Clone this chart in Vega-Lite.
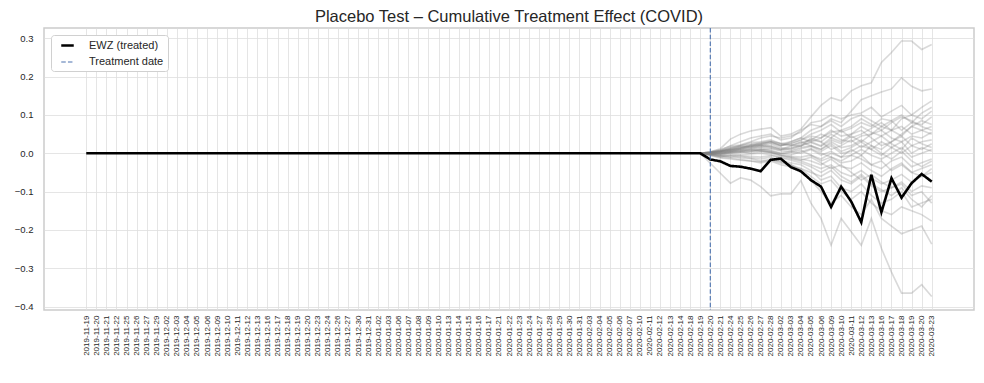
{
"$schema":"https://vega.github.io/schema/vega-lite/v6.json",
"width":930,"height":282,
"autosize":{"type":"none"},
"padding":{"left":44,"top":28,"right":10,"bottom":73},
"background":"white",
"params":[{"name":"dl","value":["2019-11-19","2019-11-20","2019-11-21","2019-11-22","2019-11-25","2019-11-26","2019-11-27","2019-11-29","2019-12-02","2019-12-03","2019-12-04","2019-12-05","2019-12-06","2019-12-09","2019-12-10","2019-12-11","2019-12-12","2019-12-13","2019-12-16","2019-12-17","2019-12-18","2019-12-19","2019-12-20","2019-12-23","2019-12-24","2019-12-26","2019-12-27","2019-12-30","2019-12-31","2020-01-02","2020-01-03","2020-01-06","2020-01-07","2020-01-08","2020-01-09","2020-01-10","2020-01-13","2020-01-14","2020-01-15","2020-01-16","2020-01-17","2020-01-21","2020-01-22","2020-01-23","2020-01-24","2020-01-27","2020-01-28","2020-01-29","2020-01-30","2020-01-31","2020-02-03","2020-02-04","2020-02-05","2020-02-06","2020-02-07","2020-02-10","2020-02-11","2020-02-12","2020-02-13","2020-02-14","2020-02-18","2020-02-19","2020-02-20","2020-02-21","2020-02-24","2020-02-25","2020-02-26","2020-02-27","2020-02-28","2020-03-02","2020-03-03","2020-03-04","2020-03-05","2020-03-06","2020-03-09","2020-03-10","2020-03-11","2020-03-12","2020-03-13","2020-03-16","2020-03-17","2020-03-18","2020-03-19","2020-03-20","2020-03-23"]}],
"title":{"text":"Placebo Test – Cumulative Treatment Effect (COVID)","fontSize":16.5,"font":"Liberation Sans","fontWeight":"normal","color":"#262626","anchor":"middle","offset":2},
"config":{
"view":{"stroke":"#cccccc","strokeWidth":1.5},
"axis":{"domain":false,"ticks":false,"gridColor":"#dedede","gridWidth":0.8,"labelFont":"Liberation Sans","labelColor":"#262626","title":null},
"legend":{"orient":"top-left","offset":7,"padding":4,"fillColor":"white","strokeColor":"#d0d0d0","cornerRadius":3,"labelFont":"Liberation Sans","labelFontSize":11,"labelColor":"#262626","symbolType":"M-1.25,0L1.25,0","symbolSize":100,"symbolOffset":6,"rowPadding":5,"labelOffset":15}
},
"datasets":{
"treated":[
{"i":0,"date":"2019-11-19","v":0,"series":"EWZ (treated)"},{"i":1,"date":"2019-11-20","v":0,"series":"EWZ (treated)"},{"i":2,"date":"2019-11-21","v":0,"series":"EWZ (treated)"},{"i":3,"date":"2019-11-22","v":0,"series":"EWZ (treated)"},{"i":4,"date":"2019-11-25","v":0,"series":"EWZ (treated)"},{"i":5,"date":"2019-11-26","v":0,"series":"EWZ (treated)"},{"i":6,"date":"2019-11-27","v":0,"series":"EWZ (treated)"},{"i":7,"date":"2019-11-29","v":0,"series":"EWZ (treated)"},
{"i":8,"date":"2019-12-02","v":0,"series":"EWZ (treated)"},{"i":9,"date":"2019-12-03","v":0,"series":"EWZ (treated)"},{"i":10,"date":"2019-12-04","v":0,"series":"EWZ (treated)"},{"i":11,"date":"2019-12-05","v":0,"series":"EWZ (treated)"},{"i":12,"date":"2019-12-06","v":0,"series":"EWZ (treated)"},{"i":13,"date":"2019-12-09","v":0,"series":"EWZ (treated)"},{"i":14,"date":"2019-12-10","v":0,"series":"EWZ (treated)"},{"i":15,"date":"2019-12-11","v":0,"series":"EWZ (treated)"},{"i":16,"date":"2019-12-12","v":0,"series":"EWZ (treated)"},{"i":17,"date":"2019-12-13","v":0,"series":"EWZ (treated)"},{"i":18,"date":"2019-12-16","v":0,"series":"EWZ (treated)"},{"i":19,"date":"2019-12-17","v":0,"series":"EWZ (treated)"},{"i":20,"date":"2019-12-18","v":0,"series":"EWZ (treated)"},{"i":21,"date":"2019-12-19","v":0,"series":"EWZ (treated)"},{"i":22,"date":"2019-12-20","v":0,"series":"EWZ (treated)"},{"i":23,"date":"2019-12-23","v":0,"series":"EWZ (treated)"},{"i":24,"date":"2019-12-24","v":0,"series":"EWZ (treated)"},{"i":25,"date":"2019-12-26","v":0,"series":"EWZ (treated)"},{"i":26,"date":"2019-12-27","v":0,"series":"EWZ (treated)"},{"i":27,"date":"2019-12-30","v":0,"series":"EWZ (treated)"},{"i":28,"date":"2019-12-31","v":0,"series":"EWZ (treated)"},
{"i":29,"date":"2020-01-02","v":0,"series":"EWZ (treated)"},{"i":30,"date":"2020-01-03","v":0,"series":"EWZ (treated)"},{"i":31,"date":"2020-01-06","v":0,"series":"EWZ (treated)"},{"i":32,"date":"2020-01-07","v":0,"series":"EWZ (treated)"},{"i":33,"date":"2020-01-08","v":0,"series":"EWZ (treated)"},{"i":34,"date":"2020-01-09","v":0,"series":"EWZ (treated)"},{"i":35,"date":"2020-01-10","v":0,"series":"EWZ (treated)"},{"i":36,"date":"2020-01-13","v":0,"series":"EWZ (treated)"},{"i":37,"date":"2020-01-14","v":0,"series":"EWZ (treated)"},{"i":38,"date":"2020-01-15","v":0,"series":"EWZ (treated)"},{"i":39,"date":"2020-01-16","v":0,"series":"EWZ (treated)"},{"i":40,"date":"2020-01-17","v":0,"series":"EWZ (treated)"},{"i":41,"date":"2020-01-21","v":0,"series":"EWZ (treated)"},{"i":42,"date":"2020-01-22","v":0,"series":"EWZ (treated)"},{"i":43,"date":"2020-01-23","v":0,"series":"EWZ (treated)"},{"i":44,"date":"2020-01-24","v":0,"series":"EWZ (treated)"},{"i":45,"date":"2020-01-27","v":0,"series":"EWZ (treated)"},{"i":46,"date":"2020-01-28","v":0,"series":"EWZ (treated)"},{"i":47,"date":"2020-01-29","v":0,"series":"EWZ (treated)"},{"i":48,"date":"2020-01-30","v":0,"series":"EWZ (treated)"},{"i":49,"date":"2020-01-31","v":0,"series":"EWZ (treated)"},
{"i":50,"date":"2020-02-03","v":0,"series":"EWZ (treated)"},{"i":51,"date":"2020-02-04","v":0,"series":"EWZ (treated)"},{"i":52,"date":"2020-02-05","v":0,"series":"EWZ (treated)"},{"i":53,"date":"2020-02-06","v":0,"series":"EWZ (treated)"},{"i":54,"date":"2020-02-07","v":0,"series":"EWZ (treated)"},{"i":55,"date":"2020-02-10","v":0,"series":"EWZ (treated)"},{"i":56,"date":"2020-02-11","v":0,"series":"EWZ (treated)"},{"i":57,"date":"2020-02-12","v":0,"series":"EWZ (treated)"},{"i":58,"date":"2020-02-13","v":0,"series":"EWZ (treated)"},{"i":59,"date":"2020-02-14","v":0,"series":"EWZ (treated)"},{"i":60,"date":"2020-02-18","v":0,"series":"EWZ (treated)"},{"i":61,"date":"2020-02-19","v":0,"series":"EWZ (treated)"},
{"i":62,"date":"2020-02-20","v":-0.016,"series":"EWZ (treated)"},{"i":63,"date":"2020-02-21","v":-0.021,"series":"EWZ (treated)"},{"i":64,"date":"2020-02-24","v":-0.033,"series":"EWZ (treated)"},{"i":65,"date":"2020-02-25","v":-0.035,"series":"EWZ (treated)"},{"i":66,"date":"2020-02-26","v":-0.040,"series":"EWZ (treated)"},{"i":67,"date":"2020-02-27","v":-0.047,"series":"EWZ (treated)"},{"i":68,"date":"2020-02-28","v":-0.017,"series":"EWZ (treated)"},
{"i":69,"date":"2020-03-02","v":-0.014,"series":"EWZ (treated)"},{"i":70,"date":"2020-03-03","v":-0.036,"series":"EWZ (treated)"},{"i":71,"date":"2020-03-04","v":-0.047,"series":"EWZ (treated)"},{"i":72,"date":"2020-03-05","v":-0.070,"series":"EWZ (treated)"},{"i":73,"date":"2020-03-06","v":-0.087,"series":"EWZ (treated)"},{"i":74,"date":"2020-03-09","v":-0.140,"series":"EWZ (treated)"},{"i":75,"date":"2020-03-10","v":-0.087,"series":"EWZ (treated)"},{"i":76,"date":"2020-03-11","v":-0.126,"series":"EWZ (treated)"},{"i":77,"date":"2020-03-12","v":-0.180,"series":"EWZ (treated)"},{"i":78,"date":"2020-03-13","v":-0.056,"series":"EWZ (treated)"},{"i":79,"date":"2020-03-16","v":-0.154,"series":"EWZ (treated)"},{"i":80,"date":"2020-03-17","v":-0.065,"series":"EWZ (treated)"},{"i":81,"date":"2020-03-18","v":-0.116,"series":"EWZ (treated)"},{"i":82,"date":"2020-03-19","v":-0.078,"series":"EWZ (treated)"},{"i":83,"date":"2020-03-20","v":-0.054,"series":"EWZ (treated)"},{"i":84,"date":"2020-03-23","v":-0.074,"series":"EWZ (treated)"}
],
"event":[{"i":62,"date":"2020-02-20","series":"Treatment date"}],
"placebo":[
{"s":"p01","i":61,"v":0},{"s":"p01","i":62,"v":0.004},{"s":"p01","i":63,"v":0.012},{"s":"p01","i":64,"v":0.037},{"s":"p01","i":65,"v":0.05},{"s":"p01","i":66,"v":0.058},{"s":"p01","i":67,"v":0.063},{"s":"p01","i":68,"v":0.067},{"s":"p01","i":69,"v":0.045},{"s":"p01","i":70,"v":0.05},{"s":"p01","i":71,"v":0.063},{"s":"p01","i":72,"v":0.095},{"s":"p01","i":73,"v":0.125},{"s":"p01","i":74,"v":0.145},{"s":"p01","i":75,"v":0.137},{"s":"p01","i":76,"v":0.163},{"s":"p01","i":77,"v":0.176},{"s":"p01","i":78,"v":0.184},{"s":"p01","i":79,"v":0.237},{"s":"p01","i":80,"v":0.263},{"s":"p01","i":81,"v":0.293},{"s":"p01","i":82,"v":0.293},{"s":"p01","i":83,"v":0.271},{"s":"p01","i":84,"v":0.284},
{"s":"p02","i":61,"v":0},{"s":"p02","i":62,"v":0.003},{"s":"p02","i":63,"v":0.008},{"s":"p02","i":64,"v":0.02},{"s":"p02","i":65,"v":0.03},{"s":"p02","i":66,"v":0.04},{"s":"p02","i":67,"v":0.045},{"s":"p02","i":68,"v":0.05},{"s":"p02","i":69,"v":0.035},{"s":"p02","i":70,"v":0.04},{"s":"p02","i":71,"v":0.06},{"s":"p02","i":72,"v":0.075},{"s":"p02","i":73,"v":0.07},{"s":"p02","i":74,"v":0.09},{"s":"p02","i":75,"v":0.08},{"s":"p02","i":76,"v":0.11},{"s":"p02","i":77,"v":0.14},{"s":"p02","i":78,"v":0.15},{"s":"p02","i":79,"v":0.16},{"s":"p02","i":80,"v":0.168},{"s":"p02","i":81,"v":0.197},{"s":"p02","i":82,"v":0.175},{"s":"p02","i":83,"v":0.163},{"s":"p02","i":84,"v":0.168},
{"s":"p03","i":61,"v":0},{"s":"p03","i":62,"v":0.002},{"s":"p03","i":63,"v":0.006},{"s":"p03","i":64,"v":0.015},{"s":"p03","i":65,"v":0.02},{"s":"p03","i":66,"v":0.028},{"s":"p03","i":67,"v":0.03},{"s":"p03","i":68,"v":0.035},{"s":"p03","i":69,"v":0.025},{"s":"p03","i":70,"v":0.03},{"s":"p03","i":71,"v":0.04},{"s":"p03","i":72,"v":0.06},{"s":"p03","i":73,"v":0.07},{"s":"p03","i":74,"v":0.085},{"s":"p03","i":75,"v":0.07},{"s":"p03","i":76,"v":0.09},{"s":"p03","i":77,"v":0.1},{"s":"p03","i":78,"v":0.085},{"s":"p03","i":79,"v":0.07},{"s":"p03","i":80,"v":0.06},{"s":"p03","i":81,"v":0.09},{"s":"p03","i":82,"v":0.1},{"s":"p03","i":83,"v":0.12},{"s":"p03","i":84,"v":0.137},
{"s":"p04","i":61,"v":0},{"s":"p04","i":62,"v":0.003},{"s":"p04","i":63,"v":0.01},{"s":"p04","i":64,"v":0.018},{"s":"p04","i":65,"v":0.022},{"s":"p04","i":66,"v":0.03},{"s":"p04","i":67,"v":0.04},{"s":"p04","i":68,"v":0.045},{"s":"p04","i":69,"v":0.04},{"s":"p04","i":70,"v":0.045},{"s":"p04","i":71,"v":0.055},{"s":"p04","i":72,"v":0.08},{"s":"p04","i":73,"v":0.085},{"s":"p04","i":74,"v":0.1},{"s":"p04","i":75,"v":0.09},{"s":"p04","i":76,"v":0.1},{"s":"p04","i":77,"v":0.105},{"s":"p04","i":78,"v":0.12},{"s":"p04","i":79,"v":0.095},{"s":"p04","i":80,"v":0.11},{"s":"p04","i":81,"v":0.125},{"s":"p04","i":82,"v":0.1},{"s":"p04","i":83,"v":0.09},{"s":"p04","i":84,"v":0.11},
{"s":"p05","i":61,"v":0},{"s":"p05","i":62,"v":0.001},{"s":"p05","i":63,"v":0.005},{"s":"p05","i":64,"v":0.01},{"s":"p05","i":65,"v":0.015},{"s":"p05","i":66,"v":0.02},{"s":"p05","i":67,"v":0.025},{"s":"p05","i":68,"v":0.03},{"s":"p05","i":69,"v":0.02},{"s":"p05","i":70,"v":0.025},{"s":"p05","i":71,"v":0.035},{"s":"p05","i":72,"v":0.05},{"s":"p05","i":73,"v":0.06},{"s":"p05","i":74,"v":0.075},{"s":"p05","i":75,"v":0.055},{"s":"p05","i":76,"v":0.065},{"s":"p05","i":77,"v":0.08},{"s":"p05","i":78,"v":0.07},{"s":"p05","i":79,"v":0.09},{"s":"p05","i":80,"v":0.085},{"s":"p05","i":81,"v":0.06},{"s":"p05","i":82,"v":0.08},{"s":"p05","i":83,"v":0.075},{"s":"p05","i":84,"v":0.095},
{"s":"p06","i":61,"v":0},{"s":"p06","i":62,"v":0.002},{"s":"p06","i":63,"v":0.004},{"s":"p06","i":64,"v":0.012},{"s":"p06","i":65,"v":0.018},{"s":"p06","i":66,"v":0.016},{"s":"p06","i":67,"v":0.02},{"s":"p06","i":68,"v":0.025},{"s":"p06","i":69,"v":0.015},{"s":"p06","i":70,"v":0.012},{"s":"p06","i":71,"v":0.02},{"s":"p06","i":72,"v":0.03},{"s":"p06","i":73,"v":0.04},{"s":"p06","i":74,"v":0.06},{"s":"p06","i":75,"v":0.045},{"s":"p06","i":76,"v":0.05},{"s":"p06","i":77,"v":0.07},{"s":"p06","i":78,"v":0.055},{"s":"p06","i":79,"v":0.045},{"s":"p06","i":80,"v":0.06},{"s":"p06","i":81,"v":0.07},{"s":"p06","i":82,"v":0.05},{"s":"p06","i":83,"v":0.06},{"s":"p06","i":84,"v":0.07},
{"s":"p07","i":61,"v":0},{"s":"p07","i":62,"v":-0.002},{"s":"p07","i":63,"v":0.003},{"s":"p07","i":64,"v":0.008},{"s":"p07","i":65,"v":0.012},{"s":"p07","i":66,"v":0.018},{"s":"p07","i":67,"v":0.022},{"s":"p07","i":68,"v":0.018},{"s":"p07","i":69,"v":0.01},{"s":"p07","i":70,"v":0.015},{"s":"p07","i":71,"v":0.025},{"s":"p07","i":72,"v":0.035},{"s":"p07","i":73,"v":0.03},{"s":"p07","i":74,"v":0.05},{"s":"p07","i":75,"v":0.035},{"s":"p07","i":76,"v":0.03},{"s":"p07","i":77,"v":0.045},{"s":"p07","i":78,"v":0.05},{"s":"p07","i":79,"v":0.06},{"s":"p07","i":80,"v":0.04},{"s":"p07","i":81,"v":0.03},{"s":"p07","i":82,"v":0.045},{"s":"p07","i":83,"v":0.04},{"s":"p07","i":84,"v":0.055},
{"s":"p08","i":61,"v":0},{"s":"p08","i":62,"v":0.001},{"s":"p08","i":63,"v":0},{"s":"p08","i":64,"v":0.006},{"s":"p08","i":65,"v":0.01},{"s":"p08","i":66,"v":0.012},{"s":"p08","i":67,"v":0.016},{"s":"p08","i":68,"v":0.02},{"s":"p08","i":69,"v":0.012},{"s":"p08","i":70,"v":0.008},{"s":"p08","i":71,"v":0.015},{"s":"p08","i":72,"v":0.02},{"s":"p08","i":73,"v":0.01},{"s":"p08","i":74,"v":0.03},{"s":"p08","i":75,"v":0.015},{"s":"p08","i":76,"v":0.02},{"s":"p08","i":77,"v":0.035},{"s":"p08","i":78,"v":0.02},{"s":"p08","i":79,"v":0.01},{"s":"p08","i":80,"v":0.03},{"s":"p08","i":81,"v":0.045},{"s":"p08","i":82,"v":0.02},{"s":"p08","i":83,"v":0.03},{"s":"p08","i":84,"v":0.035},
{"s":"p09","i":61,"v":0},{"s":"p09","i":62,"v":-0.003},{"s":"p09","i":63,"v":-0.001},{"s":"p09","i":64,"v":0.004},{"s":"p09","i":65,"v":0.006},{"s":"p09","i":66,"v":0.01},{"s":"p09","i":67,"v":0.012},{"s":"p09","i":68,"v":0.008},{"s":"p09","i":69,"v":0},{"s":"p09","i":70,"v":0.005},{"s":"p09","i":71,"v":0.012},{"s":"p09","i":72,"v":0.018},{"s":"p09","i":73,"v":0.005},{"s":"p09","i":74,"v":0.02},{"s":"p09","i":75,"v":0},{"s":"p09","i":76,"v":0.005},{"s":"p09","i":77,"v":0.02},{"s":"p09","i":78,"v":0.01},{"s":"p09","i":79,"v":0.03},{"s":"p09","i":80,"v":0.015},{"s":"p09","i":81,"v":0},{"s":"p09","i":82,"v":0.02},{"s":"p09","i":83,"v":0.01},{"s":"p09","i":84,"v":0.025},
{"s":"p10","i":61,"v":0},{"s":"p10","i":62,"v":0.002},{"s":"p10","i":63,"v":0.006},{"s":"p10","i":64,"v":0.01},{"s":"p10","i":65,"v":0.014},{"s":"p10","i":66,"v":0.02},{"s":"p10","i":67,"v":0.024},{"s":"p10","i":68,"v":0.03},{"s":"p10","i":69,"v":0.02},{"s":"p10","i":70,"v":0.03},{"s":"p10","i":71,"v":0.04},{"s":"p10","i":72,"v":0.03},{"s":"p10","i":73,"v":0.02},{"s":"p10","i":74,"v":0.04},{"s":"p10","i":75,"v":0.03},{"s":"p10","i":76,"v":0.05},{"s":"p10","i":77,"v":0.06},{"s":"p10","i":78,"v":0.04},{"s":"p10","i":79,"v":0.02},{"s":"p10","i":80,"v":0.03},{"s":"p10","i":81,"v":0.05},{"s":"p10","i":82,"v":0.07},{"s":"p10","i":83,"v":0.06},{"s":"p10","i":84,"v":0.05},
{"s":"p11","i":61,"v":0},{"s":"p11","i":62,"v":-0.001},{"s":"p11","i":63,"v":0.001},{"s":"p11","i":64,"v":0.003},{"s":"p11","i":65,"v":0.005},{"s":"p11","i":66,"v":0.008},{"s":"p11","i":67,"v":0.01},{"s":"p11","i":68,"v":0.012},{"s":"p11","i":69,"v":0.006},{"s":"p11","i":70,"v":0.004},{"s":"p11","i":71,"v":0},{"s":"p11","i":72,"v":0.01},{"s":"p11","i":73,"v":-0.005},{"s":"p11","i":74,"v":0.005},{"s":"p11","i":75,"v":-0.01},{"s":"p11","i":76,"v":-0.005},{"s":"p11","i":77,"v":0.01},{"s":"p11","i":78,"v":-0.005},{"s":"p11","i":79,"v":-0.015},{"s":"p11","i":80,"v":0},{"s":"p11","i":81,"v":0.015},{"s":"p11","i":82,"v":-0.01},{"s":"p11","i":83,"v":0},{"s":"p11","i":84,"v":0.01},
{"s":"p12","i":61,"v":0},{"s":"p12","i":62,"v":0.003},{"s":"p12","i":63,"v":0.007},{"s":"p12","i":64,"v":0.014},{"s":"p12","i":65,"v":0.02},{"s":"p12","i":66,"v":0.024},{"s":"p12","i":67,"v":0.028},{"s":"p12","i":68,"v":0.032},{"s":"p12","i":69,"v":0.026},{"s":"p12","i":70,"v":0.022},{"s":"p12","i":71,"v":0.018},{"s":"p12","i":72,"v":0.04},{"s":"p12","i":73,"v":0.03},{"s":"p12","i":74,"v":0.01},{"s":"p12","i":75,"v":0.02},{"s":"p12","i":76,"v":0.035},{"s":"p12","i":77,"v":0.015},{"s":"p12","i":78,"v":0.03},{"s":"p12","i":79,"v":0.045},{"s":"p12","i":80,"v":0.025},{"s":"p12","i":81,"v":0.01},{"s":"p12","i":82,"v":0.04},{"s":"p12","i":83,"v":0.025},{"s":"p12","i":84,"v":0.015},
{"s":"p13","i":61,"v":0},{"s":"p13","i":62,"v":-0.002},{"s":"p13","i":63,"v":-0.004},{"s":"p13","i":64,"v":0},{"s":"p13","i":65,"v":0.003},{"s":"p13","i":66,"v":0.005},{"s":"p13","i":67,"v":0.008},{"s":"p13","i":68,"v":0.004},{"s":"p13","i":69,"v":-0.004},{"s":"p13","i":70,"v":-0.008},{"s":"p13","i":71,"v":-0.01},{"s":"p13","i":72,"v":-0.005},{"s":"p13","i":73,"v":-0.02},{"s":"p13","i":74,"v":-0.01},{"s":"p13","i":75,"v":-0.025},{"s":"p13","i":76,"v":-0.02},{"s":"p13","i":77,"v":-0.005},{"s":"p13","i":78,"v":-0.03},{"s":"p13","i":79,"v":-0.04},{"s":"p13","i":80,"v":-0.02},{"s":"p13","i":81,"v":-0.01},{"s":"p13","i":82,"v":-0.035},{"s":"p13","i":83,"v":-0.025},{"s":"p13","i":84,"v":-0.015},
{"s":"p14","i":61,"v":0},{"s":"p14","i":62,"v":0},{"s":"p14","i":63,"v":0.002},{"s":"p14","i":64,"v":0.005},{"s":"p14","i":65,"v":0.008},{"s":"p14","i":66,"v":0.01},{"s":"p14","i":67,"v":0.006},{"s":"p14","i":68,"v":0.002},{"s":"p14","i":69,"v":-0.006},{"s":"p14","i":70,"v":-0.01},{"s":"p14","i":71,"v":-0.015},{"s":"p14","i":72,"v":-0.02},{"s":"p14","i":73,"v":-0.03},{"s":"p14","i":74,"v":-0.015},{"s":"p14","i":75,"v":-0.035},{"s":"p14","i":76,"v":-0.04},{"s":"p14","i":77,"v":-0.025},{"s":"p14","i":78,"v":-0.045},{"s":"p14","i":79,"v":-0.06},{"s":"p14","i":80,"v":-0.04},{"s":"p14","i":81,"v":-0.025},{"s":"p14","i":82,"v":-0.05},{"s":"p14","i":83,"v":-0.04},{"s":"p14","i":84,"v":-0.03},
{"s":"p15","i":61,"v":0},{"s":"p15","i":62,"v":-0.004},{"s":"p15","i":63,"v":-0.008},{"s":"p15","i":64,"v":-0.006},{"s":"p15","i":65,"v":-0.004},{"s":"p15","i":66,"v":-0.002},{"s":"p15","i":67,"v":0},{"s":"p15","i":68,"v":-0.004},{"s":"p15","i":69,"v":-0.01},{"s":"p15","i":70,"v":-0.015},{"s":"p15","i":71,"v":-0.02},{"s":"p15","i":72,"v":-0.03},{"s":"p15","i":73,"v":-0.04},{"s":"p15","i":74,"v":-0.03},{"s":"p15","i":75,"v":-0.05},{"s":"p15","i":76,"v":-0.06},{"s":"p15","i":77,"v":-0.045},{"s":"p15","i":78,"v":-0.065},{"s":"p15","i":79,"v":-0.08},{"s":"p15","i":80,"v":-0.07},{"s":"p15","i":81,"v":-0.055},{"s":"p15","i":82,"v":-0.075},{"s":"p15","i":83,"v":-0.06},{"s":"p15","i":84,"v":-0.05},
{"s":"p16","i":61,"v":0},{"s":"p16","i":62,"v":-0.006},{"s":"p16","i":63,"v":-0.012},{"s":"p16","i":64,"v":-0.015},{"s":"p16","i":65,"v":-0.018},{"s":"p16","i":66,"v":-0.02},{"s":"p16","i":67,"v":-0.025},{"s":"p16","i":68,"v":-0.02},{"s":"p16","i":69,"v":-0.03},{"s":"p16","i":70,"v":-0.035},{"s":"p16","i":71,"v":-0.04},{"s":"p16","i":72,"v":-0.05},{"s":"p16","i":73,"v":-0.06},{"s":"p16","i":74,"v":-0.045},{"s":"p16","i":75,"v":-0.07},{"s":"p16","i":76,"v":-0.08},{"s":"p16","i":77,"v":-0.06},{"s":"p16","i":78,"v":-0.085},{"s":"p16","i":79,"v":-0.1},{"s":"p16","i":80,"v":-0.09},{"s":"p16","i":81,"v":-0.075},{"s":"p16","i":82,"v":-0.1},{"s":"p16","i":83,"v":-0.085},{"s":"p16","i":84,"v":-0.09},
{"s":"p17","i":61,"v":0},{"s":"p17","i":62,"v":-0.003},{"s":"p17","i":63,"v":-0.006},{"s":"p17","i":64,"v":-0.01},{"s":"p17","i":65,"v":-0.008},{"s":"p17","i":66,"v":-0.012},{"s":"p17","i":67,"v":-0.015},{"s":"p17","i":68,"v":-0.01},{"s":"p17","i":69,"v":-0.02},{"s":"p17","i":70,"v":-0.025},{"s":"p17","i":71,"v":-0.03},{"s":"p17","i":72,"v":-0.045},{"s":"p17","i":73,"v":-0.07},{"s":"p17","i":74,"v":-0.06},{"s":"p17","i":75,"v":-0.09},{"s":"p17","i":76,"v":-0.1},{"s":"p17","i":77,"v":-0.08},{"s":"p17","i":78,"v":-0.11},{"s":"p17","i":79,"v":-0.13},{"s":"p17","i":80,"v":-0.12},{"s":"p17","i":81,"v":-0.1},{"s":"p17","i":82,"v":-0.14},{"s":"p17","i":83,"v":-0.13},{"s":"p17","i":84,"v":-0.12},
{"s":"p18","i":61,"v":0},{"s":"p18","i":62,"v":-0.005},{"s":"p18","i":63,"v":-0.01},{"s":"p18","i":64,"v":-0.012},{"s":"p18","i":65,"v":-0.016},{"s":"p18","i":66,"v":-0.02},{"s":"p18","i":67,"v":-0.022},{"s":"p18","i":68,"v":-0.018},{"s":"p18","i":69,"v":-0.025},{"s":"p18","i":70,"v":-0.03},{"s":"p18","i":71,"v":-0.04},{"s":"p18","i":72,"v":-0.06},{"s":"p18","i":73,"v":-0.08},{"s":"p18","i":74,"v":-0.07},{"s":"p18","i":75,"v":-0.1},{"s":"p18","i":76,"v":-0.12},{"s":"p18","i":77,"v":-0.1},{"s":"p18","i":78,"v":-0.13},{"s":"p18","i":79,"v":-0.15},{"s":"p18","i":80,"v":-0.16},{"s":"p18","i":81,"v":-0.14},{"s":"p18","i":82,"v":-0.15},{"s":"p18","i":83,"v":-0.16},{"s":"p18","i":84,"v":-0.177},
{"s":"p19","i":61,"v":0},{"s":"p19","i":62,"v":-0.004},{"s":"p19","i":63,"v":-0.008},{"s":"p19","i":64,"v":-0.006},{"s":"p19","i":65,"v":-0.012},{"s":"p19","i":66,"v":-0.014},{"s":"p19","i":67,"v":-0.02},{"s":"p19","i":68,"v":-0.016},{"s":"p19","i":69,"v":-0.022},{"s":"p19","i":70,"v":-0.03},{"s":"p19","i":71,"v":-0.045},{"s":"p19","i":72,"v":-0.07},{"s":"p19","i":73,"v":-0.1},{"s":"p19","i":74,"v":-0.13},{"s":"p19","i":75,"v":-0.11},{"s":"p19","i":76,"v":-0.14},{"s":"p19","i":77,"v":-0.16},{"s":"p19","i":78,"v":-0.12},{"s":"p19","i":79,"v":-0.17},{"s":"p19","i":80,"v":-0.19},{"s":"p19","i":81,"v":-0.21},{"s":"p19","i":82,"v":-0.2},{"s":"p19","i":83,"v":-0.19},{"s":"p19","i":84,"v":-0.237},
{"s":"p20","i":61,"v":0},{"s":"p20","i":62,"v":-0.026},{"s":"p20","i":63,"v":-0.052},{"s":"p20","i":64,"v":-0.078},{"s":"p20","i":65,"v":-0.064},{"s":"p20","i":66,"v":-0.07},{"s":"p20","i":67,"v":-0.087},{"s":"p20","i":68,"v":-0.111},{"s":"p20","i":69,"v":-0.106},{"s":"p20","i":70,"v":-0.106},{"s":"p20","i":71,"v":-0.071},{"s":"p20","i":72,"v":-0.13},{"s":"p20","i":73,"v":-0.17},{"s":"p20","i":74,"v":-0.24},{"s":"p20","i":75,"v":-0.17},{"s":"p20","i":76,"v":-0.205},{"s":"p20","i":77,"v":-0.24},{"s":"p20","i":78,"v":-0.17},{"s":"p20","i":79,"v":-0.248},{"s":"p20","i":80,"v":-0.31},{"s":"p20","i":81,"v":-0.365},{"s":"p20","i":82,"v":-0.365},{"s":"p20","i":83,"v":-0.343},{"s":"p20","i":84,"v":-0.374},
{"s":"p21","i":61,"v":0},{"s":"p21","i":62,"v":0.001},{"s":"p21","i":63,"v":0.004},{"s":"p21","i":64,"v":0.008},{"s":"p21","i":65,"v":0.012},{"s":"p21","i":66,"v":0.015},{"s":"p21","i":67,"v":0.02},{"s":"p21","i":68,"v":0.016},{"s":"p21","i":69,"v":0.01},{"s":"p21","i":70,"v":0.02},{"s":"p21","i":71,"v":0.03},{"s":"p21","i":72,"v":0.02},{"s":"p21","i":73,"v":0.01},{"s":"p21","i":74,"v":0.025},{"s":"p21","i":75,"v":0.005},{"s":"p21","i":76,"v":0.015},{"s":"p21","i":77,"v":0.03},{"s":"p21","i":78,"v":0.01},{"s":"p21","i":79,"v":-0.005},{"s":"p21","i":80,"v":0.015},{"s":"p21","i":81,"v":0.03},{"s":"p21","i":82,"v":0},{"s":"p21","i":83,"v":0.015},{"s":"p21","i":84,"v":0.005},
{"s":"p22","i":61,"v":0},{"s":"p22","i":62,"v":-0.002},{"s":"p22","i":63,"v":0},{"s":"p22","i":64,"v":0.004},{"s":"p22","i":65,"v":0.008},{"s":"p22","i":66,"v":0.006},{"s":"p22","i":67,"v":0.01},{"s":"p22","i":68,"v":0.006},{"s":"p22","i":69,"v":0},{"s":"p22","i":70,"v":-0.004},{"s":"p22","i":71,"v":0.004},{"s":"p22","i":72,"v":0.012},{"s":"p22","i":73,"v":0},{"s":"p22","i":74,"v":-0.01},{"s":"p22","i":75,"v":-0.02},{"s":"p22","i":76,"v":-0.005},{"s":"p22","i":77,"v":-0.015},{"s":"p22","i":78,"v":-0.03},{"s":"p22","i":79,"v":-0.02},{"s":"p22","i":80,"v":-0.045},{"s":"p22","i":81,"v":-0.03},{"s":"p22","i":82,"v":-0.05},{"s":"p22","i":83,"v":-0.06},{"s":"p22","i":84,"v":-0.04},
{"s":"p23","i":61,"v":0},{"s":"p23","i":62,"v":0.002},{"s":"p23","i":63,"v":0.005},{"s":"p23","i":64,"v":0.009},{"s":"p23","i":65,"v":0.013},{"s":"p23","i":66,"v":0.018},{"s":"p23","i":67,"v":0.022},{"s":"p23","i":68,"v":0.027},{"s":"p23","i":69,"v":0.02},{"s":"p23","i":70,"v":0.026},{"s":"p23","i":71,"v":0.034},{"s":"p23","i":72,"v":0.045},{"s":"p23","i":73,"v":0.04},{"s":"p23","i":74,"v":0.055},{"s":"p23","i":75,"v":0.06},{"s":"p23","i":76,"v":0.04},{"s":"p23","i":77,"v":0.05},{"s":"p23","i":78,"v":0.065},{"s":"p23","i":79,"v":0.08},{"s":"p23","i":80,"v":0.06},{"s":"p23","i":81,"v":0.045},{"s":"p23","i":82,"v":0.07},{"s":"p23","i":83,"v":0.085},{"s":"p23","i":84,"v":0.075},
{"s":"p24","i":61,"v":0},{"s":"p24","i":62,"v":-0.001},{"s":"p24","i":63,"v":-0.003},{"s":"p24","i":64,"v":0.002},{"s":"p24","i":65,"v":0.004},{"s":"p24","i":66,"v":0},{"s":"p24","i":67,"v":0.004},{"s":"p24","i":68,"v":0.001},{"s":"p24","i":69,"v":-0.006},{"s":"p24","i":70,"v":-0.012},{"s":"p24","i":71,"v":-0.018},{"s":"p24","i":72,"v":-0.01},{"s":"p24","i":73,"v":-0.025},{"s":"p24","i":74,"v":-0.04},{"s":"p24","i":75,"v":-0.03},{"s":"p24","i":76,"v":-0.05},{"s":"p24","i":77,"v":-0.07},{"s":"p24","i":78,"v":-0.055},{"s":"p24","i":79,"v":-0.075},{"s":"p24","i":80,"v":-0.09},{"s":"p24","i":81,"v":-0.08},{"s":"p24","i":82,"v":-0.11},{"s":"p24","i":83,"v":-0.1},{"s":"p24","i":84,"v":-0.13},
{"s":"p25","i":61,"v":0},{"s":"p25","i":62,"v":0},{"s":"p25","i":63,"v":0.003},{"s":"p25","i":64,"v":0.007},{"s":"p25","i":65,"v":0.01},{"s":"p25","i":66,"v":0.013},{"s":"p25","i":67,"v":0.016},{"s":"p25","i":68,"v":0.014},{"s":"p25","i":69,"v":0.008},{"s":"p25","i":70,"v":0.012},{"s":"p25","i":71,"v":0.02},{"s":"p25","i":72,"v":0.028},{"s":"p25","i":73,"v":0.018},{"s":"p25","i":74,"v":0.035},{"s":"p25","i":75,"v":0.025},{"s":"p25","i":76,"v":0.045},{"s":"p25","i":77,"v":0.03},{"s":"p25","i":78,"v":0.05},{"s":"p25","i":79,"v":0.07},{"s":"p25","i":80,"v":0.085},{"s":"p25","i":81,"v":0.1},{"s":"p25","i":82,"v":0.08},{"s":"p25","i":83,"v":0.105},{"s":"p25","i":84,"v":0.12},
{"s":"p26","i":61,"v":0},{"s":"p26","i":62,"v":-0.001},{"s":"p26","i":63,"v":-0.002},{"s":"p26","i":64,"v":0.001},{"s":"p26","i":65,"v":0.002},{"s":"p26","i":66,"v":0.004},{"s":"p26","i":67,"v":0.007},{"s":"p26","i":68,"v":0.003},{"s":"p26","i":69,"v":-0.002},{"s":"p26","i":70,"v":0.002},{"s":"p26","i":71,"v":0.008},{"s":"p26","i":72,"v":-0.005},{"s":"p26","i":73,"v":-0.015},{"s":"p26","i":74,"v":0},{"s":"p26","i":75,"v":-0.01},{"s":"p26","i":76,"v":0.01},{"s":"p26","i":77,"v":-0.005},{"s":"p26","i":78,"v":0.02},{"s":"p26","i":79,"v":0},{"s":"p26","i":80,"v":-0.015},{"s":"p26","i":81,"v":0.005},{"s":"p26","i":82,"v":-0.02},{"s":"p26","i":83,"v":-0.035},{"s":"p26","i":84,"v":-0.02},
{"s":"p27","i":61,"v":0},{"s":"p27","i":62,"v":0.002},{"s":"p27","i":63,"v":0.006},{"s":"p27","i":64,"v":0.012},{"s":"p27","i":65,"v":0.016},{"s":"p27","i":66,"v":0.022},{"s":"p27","i":67,"v":0.026},{"s":"p27","i":68,"v":0.03},{"s":"p27","i":69,"v":0.024},{"s":"p27","i":70,"v":0.02},{"s":"p27","i":71,"v":0.028},{"s":"p27","i":72,"v":0.035},{"s":"p27","i":73,"v":0.05},{"s":"p27","i":74,"v":0.04},{"s":"p27","i":75,"v":0.06},{"s":"p27","i":76,"v":0.07},{"s":"p27","i":77,"v":0.09},{"s":"p27","i":78,"v":0.075},{"s":"p27","i":79,"v":0.06},{"s":"p27","i":80,"v":0.08},{"s":"p27","i":81,"v":0.095},{"s":"p27","i":82,"v":0.085},{"s":"p27","i":83,"v":0.07},{"s":"p27","i":84,"v":0.06},
{"s":"p28","i":61,"v":0},{"s":"p28","i":62,"v":-0.003},{"s":"p28","i":63,"v":-0.005},{"s":"p28","i":64,"v":-0.003},{"s":"p28","i":65,"v":-0.006},{"s":"p28","i":66,"v":-0.008},{"s":"p28","i":67,"v":-0.01},{"s":"p28","i":68,"v":-0.006},{"s":"p28","i":69,"v":-0.012},{"s":"p28","i":70,"v":-0.018},{"s":"p28","i":71,"v":-0.025},{"s":"p28","i":72,"v":-0.035},{"s":"p28","i":73,"v":-0.05},{"s":"p28","i":74,"v":-0.035},{"s":"p28","i":75,"v":-0.06},{"s":"p28","i":76,"v":-0.075},{"s":"p28","i":77,"v":-0.055},{"s":"p28","i":78,"v":-0.08},{"s":"p28","i":79,"v":-0.095},{"s":"p28","i":80,"v":-0.11},{"s":"p28","i":81,"v":-0.09},{"s":"p28","i":82,"v":-0.12},{"s":"p28","i":83,"v":-0.14},{"s":"p28","i":84,"v":-0.11}
]
},
"layer":[
{"data":{"name":"placebo"},
 "mark":{"type":"line","color":"#808080","opacity":0.3,"strokeWidth":1.6},
 "encoding":{
  "x":{"field":"i","type":"quantitative","scale":{"domain":[-4.2,88.2],"nice":false,"zero":false},"axis":{"values":[0,1,2,3,4,5,6,7,8,9,10,11,12,13,14,15,16,17,18,19,20,21,22,23,24,25,26,27,28,29,30,31,32,33,34,35,36,37,38,39,40,41,42,43,44,45,46,47,48,49,50,51,52,53,54,55,56,57,58,59,60,61,62,63,64,65,66,67,68,69,70,71,72,73,74,75,76,77,78,79,80,81,82,83,84],"tickCount":200,"labelExpr":"dl[datum.value]","labelAngle":-90,"labelAlign":"right","labelBaseline":"middle","labelFontSize":8,"labelPadding":5,"labelOverlap":false,"labelFlush":false,"grid":true}},
  "y":{"field":"v","type":"quantitative","scale":{"domain":[-0.409,0.327],"nice":false,"zero":false},"axis":{"values":[-0.4,-0.3,-0.2,-0.1,0,0.1,0.2,0.3],"format":".1f","labelFontSize":9.5,"labelPadding":11,"grid":true}},
  "detail":{"field":"s"}
 }},
{"data":{"name":"treated"},
 "mark":{"type":"line"},
 "encoding":{
  "x":{"field":"i","type":"quantitative"},
  "y":{"field":"v","type":"quantitative"},
  "color":{"field":"series","type":"nominal","scale":{"domain":["EWZ (treated)","Treatment date"],"range":["#000000","#4c72b0"]},"legend":{"title":null}},
  "strokeDash":{"field":"series","type":"nominal","scale":{"domain":["EWZ (treated)","Treatment date"],"range":[[1,0],[4.5,2.2]]},"legend":{"title":null}},
  "strokeWidth":{"field":"series","type":"nominal","scale":{"domain":["EWZ (treated)","Treatment date"],"range":[2.6,1.1]},"legend":{"title":null}}
 }},
{"data":{"name":"event"},
 "mark":{"type":"rule"},
 "encoding":{
  "x":{"field":"i","type":"quantitative"},
  "color":{"field":"series","type":"nominal"},
  "strokeDash":{"field":"series","type":"nominal"},
  "strokeWidth":{"field":"series","type":"nominal"}
 }}
]
}
